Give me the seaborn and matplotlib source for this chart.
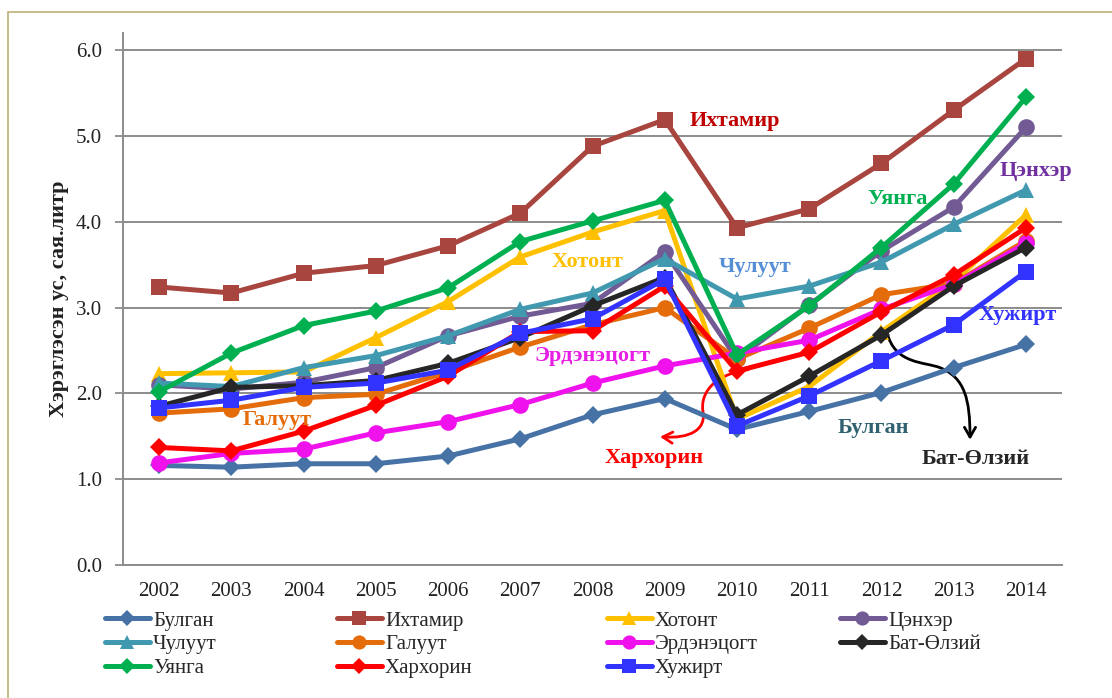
import numpy as np
import pandas as pd
import seaborn as sns
import matplotlib.pyplot as plt
from matplotlib.patches import Rectangle, FancyArrowPatch
from matplotlib.path import Path

# Data (сая литр)
years = [2002, 2003, 2004, 2005, 2006, 2007, 2008, 2009, 2010, 2011, 2012, 2013, 2014]
bulgan = [1.16, 1.14, 1.18, 1.18, 1.27, 1.47, 1.75, 1.94, 1.58, 1.79, 2.01, 2.30, 2.57]
ikhtamir = [3.24, 3.17, 3.40, 3.49, 3.72, 4.10, 4.88, 5.19, 3.93, 4.15, 4.68, 5.30, 5.90]
khotont = [2.23, 2.24, 2.25, 2.65, 3.07, 3.59, 3.88, 4.13, 1.70, 2.08, 2.72, 3.30, 4.08]
tsenkher = [2.10, 2.05, 2.13, 2.30, 2.67, 2.90, 3.05, 3.65, 2.40, 3.03, 3.66, 4.17, 5.10]
chuluut = [2.12, 2.08, 2.30, 2.44, 2.67, 2.98, 3.17, 3.57, 3.10, 3.25, 3.53, 3.97, 4.37]
galuut = [1.77, 1.82, 1.95, 1.99, 2.25, 2.54, 2.80, 3.00, 2.40, 2.76, 3.15, 3.28, 3.78]
erdenetsogt = [1.19, 1.30, 1.35, 1.54, 1.67, 1.87, 2.12, 2.32, 2.47, 2.62, 2.98, 3.27, 3.75]
bat_olziy = [1.85, 2.07, 2.09, 2.15, 2.35, 2.65, 3.02, 3.35, 1.75, 2.20, 2.68, 3.25, 3.70]
uyanga = [2.02, 2.47, 2.79, 2.96, 3.23, 3.77, 4.01, 4.25, 2.45, 3.02, 3.70, 4.44, 5.45]
kharkhorin = [1.37, 1.33, 1.56, 1.86, 2.20, 2.72, 2.73, 3.25, 2.26, 2.48, 2.95, 3.38, 3.93]
khujirt = [1.83, 1.92, 2.07, 2.12, 2.27, 2.70, 2.87, 3.33, 1.62, 1.97, 2.38, 2.80, 3.42]

names = ['Булган', 'Ихтамир', 'Хотонт', 'Цэнхэр', 'Чулуут', 'Галуут',
         'Эрдэнэцогт', 'Бат-Өлзий', 'Уянга', 'Хархорин', 'Хужирт']
values = [bulgan, ikhtamir, khotont, tsenkher, chuluut, galuut,
          erdenetsogt, bat_olziy, uyanga, kharkhorin, khujirt]
colors = ['#4672A6', '#A9453F', '#FFC000', '#725A94', '#4199B0', '#E46C0A',
          '#F012EC', '#262626', '#00B050', '#FF0000', '#3333FF']
markers = ['D', 's', '^', 'o', '^', 'o', 'o', 'D', 'D', 'D', 's']
msizes = [9, 12, 12, 12, 12, 12, 12, 9, 9, 9, 12]

sns.set_style('white')
plt.rcParams['font.family'] = ['Liberation Serif', 'DejaVu Serif']

fig = plt.figure(figsize=(11.12, 6.98), dpi=100)
ax = fig.add_axes([123 / 1112, 1 - 565 / 698, 939 / 1112, 532 / 698])

handles = []
for name, vals, c, m, ms in zip(names, values, colors, markers, msizes):
    sns.lineplot(x=years, y=vals, color=c, marker=m, markersize=ms,
                 markeredgewidth=0, linewidth=3.6, errorbar=None,
                 legend=False, ax=ax)
    line = ax.lines[-1]
    line.set_label(name)
    handles.append(line)

ax.set_xlim(2001.5, 2014.5)
ax.set_ylim(0, 6.2)
ax.set_yticks(np.arange(0, 6.1, 1.0))
ax.set_yticklabels([f'{v:.1f}' for v in np.arange(0, 6.1, 1.0)])
ax.set_xticks(years)
ax.set_xticks(np.arange(2001.5, 2015, 1), minor=True)
ax.tick_params(axis='x', which='major', length=0, pad=12, labelsize=15, colors='#222222')
ax.tick_params(axis='x', which='minor', length=6, width=1.3, color='#8C8C8C', direction='out')
ax.tick_params(axis='y', length=6, width=1.3, color='#8C8C8C', pad=9, labelsize=15,
               labelcolor='#222222', direction='out', left=True)
ax.yaxis.grid(True, color='#8C8C8C', linewidth=1.4)
ax.xaxis.grid(False)
for s in ['top', 'right']:
    ax.spines[s].set_visible(False)
for s in ['left', 'bottom']:
    ax.spines[s].set_color('#8C8C8C')
    ax.spines[s].set_linewidth(1.4)
ax.set_axisbelow(True)
ax.set_xlabel('')
ax.set_ylabel('Хэрэглэсэн ус, сая.литр', fontsize=16, fontweight='bold',
              color='#222222', labelpad=5)

# Series labels on the chart
labels = [
    ('Ихтамир', 2009.35, 5.17, '#C00000'),
    ('Хотонт', 2007.44, 3.53, '#FFC000'),
    ('Чулуут', 2009.74, 3.47, '#558ED5'),
    ('Цэнхэр', 2013.64, 4.59, '#7030A0'),
    ('Уянга', 2011.81, 4.26, '#00B050'),
    ('Хужирт', 2013.34, 2.91, '#3333FF'),
    ('Галуут', 2003.16, 1.69, '#E46C0A'),
    ('Эрдэнэцогт', 2007.20, 2.43, '#E61EE6'),
    ('Хархорин', 2008.17, 1.25, '#FF0000'),
    ('Булган', 2011.40, 1.60, '#2F6170'),
    ('Бат-Өлзий', 2012.56, 1.24, '#262626'),
]
for txt, x, y, c in labels:
    ax.text(x, y, txt, color=c, fontsize=16, fontweight='bold', ha='left', va='center')

# Curved arrows
def px(x, y):
    return (2002 + (x - 159.1) / 72.23, (565 - y) / 85.67)

red_path = Path([px(748, 370), px(712, 375), px(700, 395), px(703, 412),
                 px(706, 430), px(690, 439), px(660, 437)],
                [Path.MOVETO, Path.CURVE4, Path.CURVE4, Path.CURVE4,
                 Path.CURVE4, Path.CURVE4, Path.CURVE4])
ax.add_patch(FancyArrowPatch(path=red_path, arrowstyle='->,head_length=7,head_width=4',
                             color='#FF0000', lw=2, mutation_scale=1))
black_path = Path([px(887, 333), px(895, 365), px(925, 362), px(940, 368),
                   px(965, 378), px(970, 400), px(970, 440)],
                  [Path.MOVETO, Path.CURVE4, Path.CURVE4, Path.CURVE4,
                   Path.CURVE4, Path.CURVE4, Path.CURVE4])
ax.add_patch(FancyArrowPatch(path=black_path, arrowstyle='->,head_length=7,head_width=4',
                             color='black', lw=2, mutation_scale=1))

# Legend in four columns
col_x = [105, 337, 607, 840]
groups = [[0, 4, 8], [1, 5, 9], [2, 6, 10], [3, 7]]
for cx, idx in zip(col_x, groups):
    fig.legend([handles[i] for i in idx], [names[i] for i in idx],
               loc='upper left', bbox_to_anchor=(cx / 1112, 1 - 611 / 698),
               frameon=False, fontsize=15, handlelength=2.15, handletextpad=0.15,
               labelspacing=0.2, borderpad=0, borderaxespad=0, markerscale=0.85)

# Outer frame
fig.patches.append(Rectangle((8 / 1112, -0.1), 1.2, 1.1 - 12 / 698,
                             transform=fig.transFigure, fill=False,
                             edgecolor='#BDB076', linewidth=1.2, clip_on=False))

fig.savefig('out.png', dpi=100)
